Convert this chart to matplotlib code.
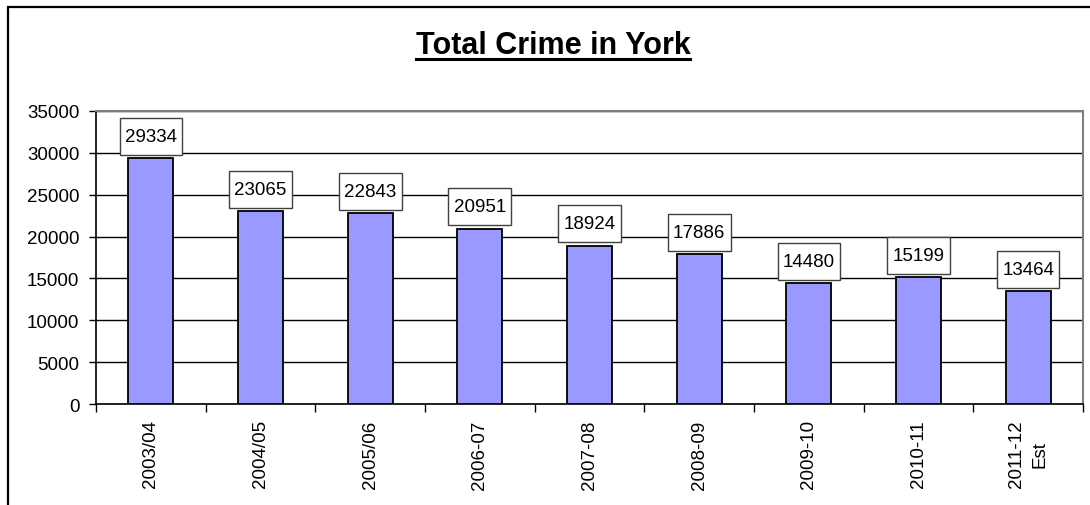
import matplotlib
matplotlib.use("Agg")
import matplotlib.pyplot as plt
from matplotlib.lines import Line2D
import numpy as np

categories = ["2003/04", "2004/05", "2005/06", "2006-07", "2007-08",
              "2008-09", "2009-10", "2010-11", "2011-12\nEst"]
values = [29334, 23065, 22843, 20951, 18924, 17886, 14480, 15199, 13464]
yticks = [0, 5000, 10000, 15000, 20000, 25000, 30000, 35000]
title = "Total Crime in York"

plt.rcParams['font.family'] = ['Liberation Sans', 'DejaVu Sans']

W, H = 1090, 506
FS = 13.5
fig = plt.figure(figsize=(W / 100, H / 100), dpi=100)
fig.patch.set_facecolor("white")

ax = fig.add_axes([96 / W, 1 - 405 / H, (1083 - 96) / W, (405 - 112) / H])
x = np.arange(len(categories))
ax.bar(x, values, width=0.41, color="#9999FF", edgecolor="black", linewidth=1.3, zorder=3)

ax.set_xlim(-0.5, len(categories) - 0.5)
ax.set_ylim(0, 35000)
ax.set_yticks(yticks)
ax.set_yticklabels([str(v) for v in yticks])
ax.yaxis.grid(True, color="black", linewidth=1.0, zorder=0)
ax.set_axisbelow(True)

ax.set_xticks(x)
ax.set_xticklabels(categories, rotation=90, ha="center", va="top", multialignment="center",
                   linespacing=1.45)
ax.set_xticks(np.arange(-0.5, len(categories)), minor=True)
ax.tick_params(axis="x", which="major", length=0, pad=11, labelsize=FS)
ax.tick_params(axis="x", which="minor", length=6, width=1, color="black", direction="out")
ax.tick_params(axis="y", length=5, width=1, color="black", direction="out", pad=7, labelsize=FS)

for s in ["top", "right"]:
    ax.spines[s].set_color("#808080")
    ax.spines[s].set_linewidth(1.5)
for s in ["left", "bottom"]:
    ax.spines[s].set_color("black")
    ax.spines[s].set_linewidth(1.2)

for xi, v in zip(x, values):
    ax.annotate(str(v), xy=(xi, v), xytext=(0, 9.5), textcoords="offset points",
                ha="center", va="bottom", fontsize=FS, zorder=5,
                bbox=dict(boxstyle="square,pad=0.28", facecolor="white", edgecolor="#404040",
                          linewidth=1.0, mutation_aspect=1.9))

t = fig.text(553 / W, 1 - 54 / H, title, ha="center", va="baseline",
             fontsize=22, fontweight="bold")
fig.canvas.draw()
bb = t.get_window_extent()
uy = 1 - 59.5 / H
fig.add_artist(Line2D([bb.x0 / W, bb.x1 / W], [uy, uy], color="black", linewidth=2.2,
                      transform=fig.transFigure))

# outer chart-area frame (cut off at right and bottom)
fig.add_artist(Line2D([8 / W, 8 / W, 1.0], [0.0, 1 - 8 / H, 1 - 8 / H], color="black",
                      linewidth=1.6, transform=fig.transFigure, solid_joinstyle="miter"))

fig.savefig("out.png", dpi=100, facecolor="white")
